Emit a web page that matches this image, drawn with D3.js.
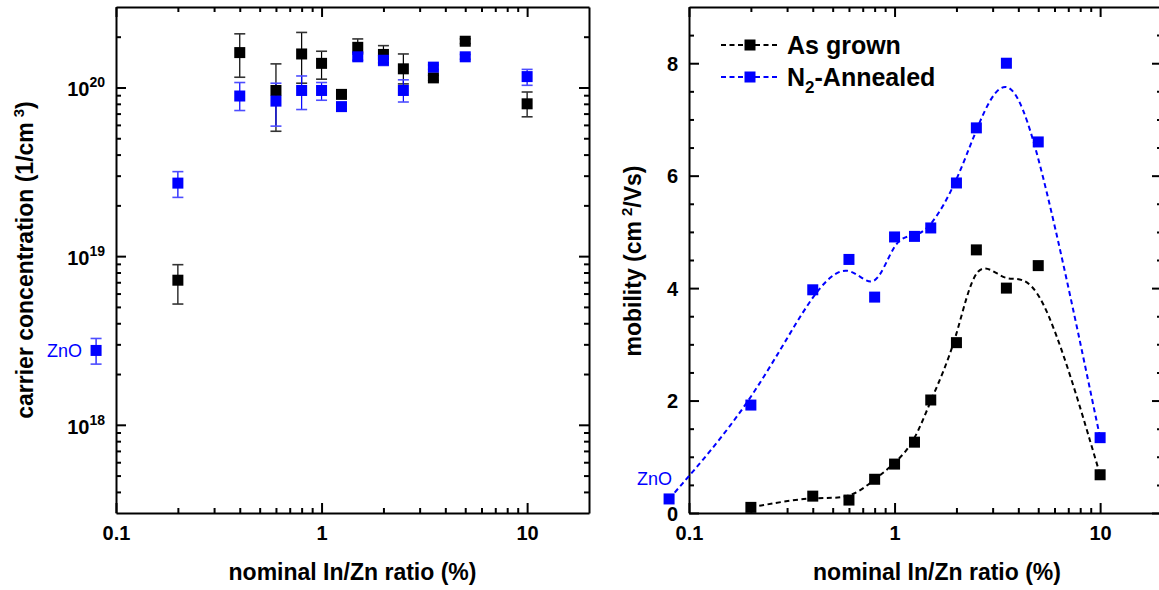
<!DOCTYPE html>
<html>
<head>
<meta charset="utf-8">
<script src="https://cdn.jsdelivr.net/npm/d3@7"></script>
<style>
  body { margin: 0; background: #fff; }
  svg { display: block; font-family: "Liberation Sans", Arial, sans-serif; }
  .axis text { font-size: 20px; font-weight: bold; fill: #000; }
  .axis path, .axis line { stroke: #000; stroke-width: 2; }
</style>
</head>
<body>
<script>
// nominal In/Zn ratio (%) of the doped samples, ZnO reference drawn just left of the axis
var ratio = [0.2, 0.4, 0.6, 0.8, 1, 1.25, 1.5, 2, 2.5, 3.5, 5, 10];
var znoRatio = 0.08;

// carrier concentration (1/cm3)
var grownN     = [7.2e18, 1.61e20, 0.96e20, 1.58e20, 1.39e20, 0.91e20, 1.73e20, 1.57e20, 1.29e20, 1.14e20, 1.88e20, 0.80e20];
var grownNLow  = [5.2e18, 1.15e20, 0.55e20, 1.06e20, 1.12e20, 0.88e20, 1.58e20, 1.40e20, 1.05e20, 1.10e20, 1.82e20, 0.67e20];
var grownNHigh = [8.9e18, 2.08e20, 1.38e20, 2.12e20, 1.64e20, 0.94e20, 1.94e20, 1.77e20, 1.58e20, 1.18e20, 1.94e20, 0.94e20];

var annealN     = [2.71e19, 0.89e20, 0.83e20, 0.96e20, 0.96e20, 0.77e20, 1.52e20, 1.45e20, 0.96e20, 1.32e20, 1.52e20, 1.16e20];
var annealNLow  = [2.23e19, 0.73e20, 0.59e20, 0.74e20, 0.84e20, 0.75e20, 1.45e20, 1.35e20, 0.82e20, 1.28e20, 1.47e20, 1.03e20];
var annealNHigh = [3.17e19, 1.07e20, 1.06e20, 1.17e20, 1.07e20, 0.79e20, 1.60e20, 1.55e20, 1.11e20, 1.36e20, 1.57e20, 1.28e20];

var znoN = 2.76e18, znoNLow = 2.29e18, znoNHigh = 3.25e18;

// mobility (cm2/Vs)
var grownMu  = [0.10, 0.30, 0.23, 0.60, 0.87, 1.26, 2.01, 3.03, 4.68, 4.00, 4.40, 0.68];
var annealMu = [1.92, 3.97, 4.51, 3.84, 4.91, 4.92, 5.07, 5.87, 6.85, 8.00, 6.60, 1.34];
var znoMu = 0.25;

// tick values
var xMajor = [0.1, 1, 10];
var xMinor = [0.2, 0.3, 0.4, 0.5, 0.6, 0.7, 0.8, 0.9, 2, 3, 4, 5, 6, 7, 8, 9];
var nMajor = [1e18, 1e19, 1e20];
var nMinor = [4e17, 5e17, 6e17, 7e17, 8e17, 9e17, 2e18, 3e18, 4e18, 5e18, 6e18, 7e18, 8e18, 9e18,
              2e19, 3e19, 4e19, 5e19, 6e19, 7e19, 8e19, 9e19, 2e20];
var muMajor = [0, 2, 4, 6, 8];
var muMinor = [0.5, 1, 1.5, 2.5, 3, 3.5, 4.5, 5, 5.5, 6.5, 7, 7.5, 8.5];

var BLUE = "#0000ff";

var svg = d3.select("body").append("svg")
  .attr("width", 1159)
  .attr("height", 590);

var plotTop = 7, plotBottom = 513;

var xL = d3.scaleLog().domain([0.1, 20]).range([116, 589]);
var yL = d3.scaleLog().domain([3e17, 3e20]).range([plotBottom, plotTop]);
var xR = d3.scaleLog().domain([0.1, 20]).range([689, 1162]);
var yR = d3.scaleLinear().domain([0, 9]).range([plotBottom, plotTop]);

// one set of ticks; inward ticks use a negative size
function axis(make, scale, values, size, tx, ty, fmt, pad, keepDomain) {
  var a = make(scale).tickValues(values).tickSizeInner(-size).tickSizeOuter(0)
    .tickPadding(pad || 0).tickFormat(fmt || "");
  var g = svg.append("g").attr("class", "axis")
    .attr("transform", "translate(" + tx + "," + ty + ")")
    .call(a);
  if (!keepDomain) g.select(".domain").remove();
  return g;
}

function frame(x, y, yMajor, yMinor, xFmt, yFmt) {
  var x0 = x.range()[0], x1 = x.range()[1];
  axis(d3.axisBottom, x, xMinor, 5, 0, plotBottom);
  axis(d3.axisTop, x, xMinor, 5, 0, plotTop);
  axis(d3.axisLeft, y, yMinor, 5, x0, 0);
  axis(d3.axisRight, y, yMinor, 5, x1, 0);
  axis(d3.axisTop, x, xMajor, 10, 0, plotTop, null, 0, true);
  axis(d3.axisRight, y, yMajor, 10, x1, 0, null, 0, true);
  axis(d3.axisBottom, x, xMajor, 10, 0, plotBottom, xFmt, 13, true);
  return axis(d3.axisLeft, y, yMajor, 10, x0, 0, yFmt, 11, true);
}

// ---------- left panel: carrier concentration ----------
var gyL = frame(xL, yL, nMajor, nMinor, d3.format("~g"), function() { return ""; });
gyL.selectAll(".tick text").attr("dy", "0.42em").each(function(d) {
  var t = d3.select(this);
  t.append("tspan").text("10");
  t.append("tspan").attr("dy", -9).attr("font-size", 14).text(Math.round(Math.log10(d)));
});

function errBars(xs, lo, hi, color, capColor) {
  var g = svg.append("g");
  xs.forEach(function(xv, i) {
    var cx = xL(xv);
    g.append("line").attr("x1", cx).attr("x2", cx).attr("y1", yL(lo[i])).attr("y2", yL(hi[i]))
      .attr("stroke", color).attr("stroke-width", 1.2);
    [lo[i], hi[i]].forEach(function(v) {
      g.append("line").attr("x1", cx - 5.5).attr("x2", cx + 5.5).attr("y1", yL(v)).attr("y2", yL(v))
        .attr("stroke", capColor).attr("stroke-width", 1.6);
    });
  });
}

function squares(xScale, yScale, xs, ys, color) {
  svg.append("g").selectAll("rect").data(xs).enter().append("rect")
    .attr("x", function(d) { return xScale(d) - 5.5; })
    .attr("y", function(d, i) { return yScale(ys[i]) - 5.5; })
    .attr("width", 11).attr("height", 11)
    .attr("fill", color);
}

errBars(ratio, grownNLow, grownNHigh, "#000", "#333");
errBars(ratio.concat([znoRatio]), annealNLow.concat([znoNLow]), annealNHigh.concat([znoNHigh]), BLUE, "#4d4dff");
squares(xL, yL, ratio, grownN, "#000");
squares(xL, yL, ratio.concat([znoRatio]), annealN.concat([znoN]), BLUE);

svg.append("text").attr("x", 47).attr("y", 357)
  .attr("font-size", 18).attr("fill", BLUE).text("ZnO");

var tyL = svg.append("text")
  .attr("transform", "translate(33,260) rotate(-90)")
  .attr("text-anchor", "middle").attr("font-size", 23).attr("font-weight", "bold");
tyL.append("tspan").text("carrier concentration (1/cm");
tyL.append("tspan").attr("dx", 5).attr("dy", -9).attr("font-size", 15).text("3");
tyL.append("tspan").attr("dy", 9).text(")");

svg.append("text").attr("x", (xL.range()[0] + xL.range()[1]) / 2).attr("y", 580)
  .attr("text-anchor", "middle").attr("font-size", 23).attr("font-weight", "bold")
  .text("nominal In/Zn ratio (%)");

// ---------- right panel: mobility ----------
var gyR = frame(xR, yR, muMajor, muMinor, d3.format("~g"), d3.format("d"));
gyR.selectAll(".tick text").attr("dy", "0.36em");

var curve = d3.line()
  .x(function(d) { return xR(d[0]); })
  .y(function(d) { return yR(d[1]); })
  .curve(d3.curveBasis);

svg.append("path")
  .datum(ratio.map(function(r, i) { return [r, grownMu[i]]; }))
  .attr("d", curve).attr("fill", "none")
  .attr("stroke", "#000").attr("stroke-width", 2).attr("stroke-dasharray", "5,3.5");

svg.append("path")
  .datum([[znoRatio, znoMu]].concat(ratio.map(function(r, i) { return [r, annealMu[i]]; })))
  .attr("d", curve).attr("fill", "none")
  .attr("stroke", BLUE).attr("stroke-width", 2).attr("stroke-dasharray", "5,3.5");

squares(xR, yR, ratio, grownMu, "#000");
squares(xR, yR, [znoRatio].concat(ratio), [znoMu].concat(annealMu), BLUE);

svg.append("text").attr("x", 637).attr("y", 484.5)
  .attr("font-size", 18).attr("fill", BLUE).text("ZnO");

var tyR = svg.append("text")
  .attr("transform", "translate(641,261) rotate(-90)")
  .attr("text-anchor", "middle").attr("font-size", 23).attr("font-weight", "bold");
tyR.append("tspan").text("mobility (cm");
tyR.append("tspan").attr("dx", 5).attr("dy", -9).attr("font-size", 15).text("2");
tyR.append("tspan").attr("dy", 9).text("/Vs)");

svg.append("text").attr("x", (xR.range()[0] + 1159) / 2 + 13).attr("y", 580)
  .attr("text-anchor", "middle").attr("font-size", 23).attr("font-weight", "bold")
  .text("nominal In/Zn ratio (%)");

// legend
var legend = [
  { label: "As grown", color: "#000", y: 45 },
  { label: "N2-Annealed", color: BLUE, y: 77 }
];
legend.forEach(function(d) {
  svg.append("line").attr("x1", 721).attr("x2", 780).attr("y1", d.y).attr("y2", d.y)
    .attr("stroke", d.color).attr("stroke-width", 2).attr("stroke-dasharray", "5,3.5");
  svg.append("rect").attr("x", 750 - 5.5).attr("y", d.y - 5.5).attr("width", 11).attr("height", 11)
    .attr("fill", d.color);
  var t = svg.append("text").attr("x", 787).attr("y", d.y + 9)
    .attr("font-size", 25).attr("font-weight", "bold");
  if (d.label.indexOf("N2") === 0) {
    t.append("tspan").text("N");
    t.append("tspan").attr("dy", 7).attr("font-size", 17).text("2");
    t.append("tspan").attr("dy", -7).text(d.label.slice(2));
  } else {
    t.text(d.label);
  }
});
</script>
</body>
</html>
